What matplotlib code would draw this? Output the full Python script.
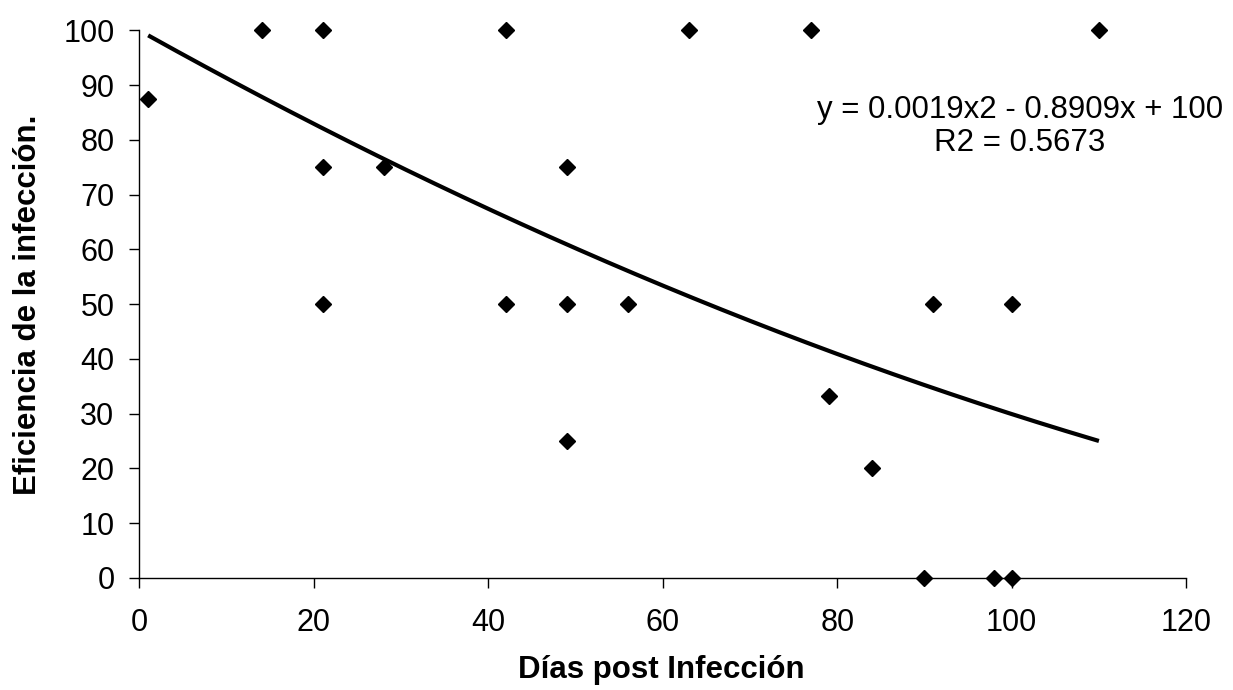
import matplotlib.pyplot as plt
import numpy as np

# datos
dias = [1, 14, 21, 21, 21, 28, 42, 42, 49, 49, 49, 56, 63, 77, 79, 84, 90, 91, 98, 100, 100, 110]
eficiencia = [87.5, 100, 100, 75, 50, 75, 100, 50, 75, 50, 25, 50, 100, 100, 33.3, 20, 0, 50, 0, 0, 50, 100]

# linea de tendencia polinomica (coeficientes del grafico)
coef = [0.0019, -0.8909, 100]
r2 = 0.5673

plt.rcParams['font.family'] = ['Liberation Sans', 'DejaVu Sans']

fig = plt.figure(figsize=(12.33, 6.9), dpi=100)
ax = fig.add_axes([0.1131, 0.1627, 0.8489, 0.7931])

xs = np.linspace(min(dias), max(dias), 200)
ax.plot(xs, np.polyval(coef, xs), color='black', linewidth=3.0, solid_capstyle='butt')
ax.plot(dias, eficiencia, linestyle='none', marker='D', markersize=7.8,
        color='black', clip_on=False, zorder=3)

ax.set_xlim(0, 120)
ax.set_ylim(0, 100)
ax.set_xticks(range(0, 121, 20))
ax.set_yticks(range(0, 101, 10))
ax.spines['top'].set_visible(False)
ax.spines['right'].set_visible(False)
for s in ['left', 'bottom']:
    ax.spines[s].set_linewidth(1.0)
ax.tick_params(axis='both', direction='out', length=7, width=1.0, labelsize=22)
ax.tick_params(axis='y', pad=11)
ax.tick_params(axis='x', pad=15)

fig.text(661 / 1233, 1 - 670 / 690, 'Días post Infección', ha='center', va='center',
         fontsize=22.5, fontweight='bold')
fig.text(28 / 1233, 1 - 305 / 690, 'Eficiencia de la infección.', ha='center', va='center',
         rotation=90, fontsize=22.5, fontweight='bold')

fig.text(1020 / 1233, 1 - 110 / 690, 'y = %.4fx2 - %.4fx + %d' % (coef[0], -coef[1], coef[2]),
         ha='center', va='center', fontsize=22.5)
fig.text(1020 / 1233, 1 - 143 / 690, 'R2 = %.4f' % r2, ha='center', va='center', fontsize=22.5)

fig.savefig('out.png', dpi=100)
